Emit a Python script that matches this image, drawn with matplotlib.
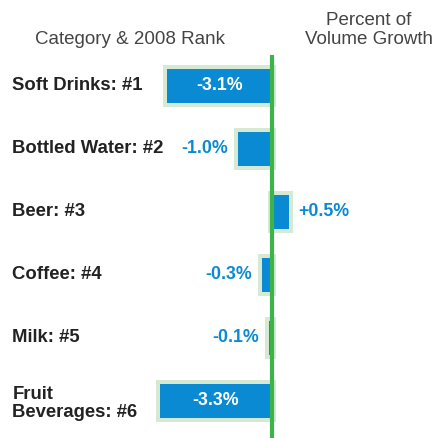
import matplotlib.pyplot as plt
import numpy as np

plt.rcParams['font.family'] = ['Liberation Sans', 'DejaVu Sans']

# data
categories = ['Soft Drinks: #1', 'Bottled Water: #2', 'Beer: #3',
              'Coffee: #4', 'Milk: #5', 'Fruit\nBeverages: #6']
growth = [-3.1, -1.0, 0.5, -0.3, -0.1, -3.3]
labels = ['-3.1%', '-1.0%', '+0.5%', '-0.3%', '-0.1%', '-3.3%']

blue = '#0a8ad2'
pale = '#d6ead3'
green = '#3cb44a'

fig = plt.figure(figsize=(4.38, 4.38), dpi=100)
ax = fig.add_axes([0, 0, 1, 1])
ax.set_xlim(-8.0, 4.88)
ax.set_ylim(5.59, -1.365)
ax.axis('off')

v = np.array(growth)
y = np.arange(len(v))
h = 0.54
px, py = 0.12, 0.065  # border size in data units

ax.barh(y, np.abs(v) + 2 * px, left=np.minimum(v, 0) - px, height=h + 2 * py,
        color=pale, zorder=1)
ax.barh(y, v, height=h, color=blue, zorder=2)
ax.vlines(0, -0.49, 5.59, color=green, lw=3, zorder=3)

for i, (val, lab) in enumerate(zip(v, labels)):
    if abs(val) > 2:
        ax.text(val / 2, i, lab, color='white', fontsize=12.8, fontweight='bold',
                ha='center', va='center', zorder=4)
    elif val < 0:
        ax.annotate(lab, (val - px, i), xytext=(-4, 0), textcoords='offset points',
                    color=blue, fontsize=12.8, fontweight='bold',
                    ha='right', va='center')
    else:
        ax.annotate(lab, (val + px, i), xytext=(4, 0), textcoords='offset points',
                    color=blue, fontsize=12.8, fontweight='bold',
                    ha='left', va='center')

for i, cat in enumerate(categories):
    ax.annotate(cat, (0, i), xycoords=('figure pixels', 'data'), xytext=(9, -2 if '\n' in cat else 0),
                textcoords='offset points', fontsize=13.3, fontweight='bold',
                color='#222222', ha='left', va='center', linespacing=1.05)

fig.text(130 / 438, 1 - 40 / 438, 'Category & 2008 Rank', fontsize=13.5,
         color='#444444', ha='center', va='center')
fig.text(369 / 438, 1 - 30 / 438, 'Percent of\nVolume Growth', fontsize=13.5,
         color='#444444', ha='center', va='center', linespacing=1.2)

fig.savefig('out.png', dpi=100)
